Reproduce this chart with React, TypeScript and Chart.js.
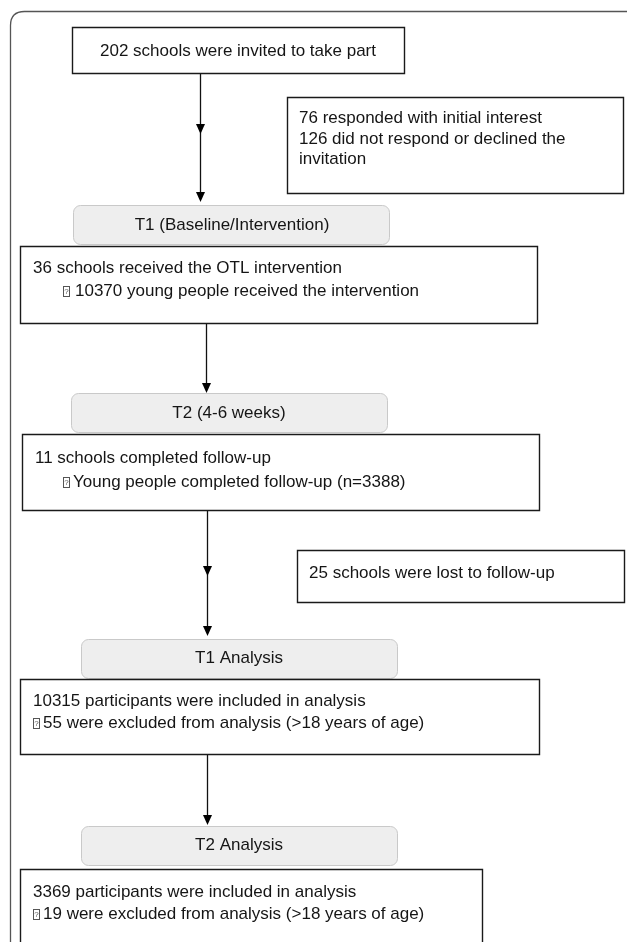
import React, { useEffect, useRef } from "react";
import { Chart, registerables } from "chart.js";

Chart.register(...registerables);

// ---- data (counts and labels) ----
const schoolsInvited = 202;
const respondedInterest = 76;
const declinedOrNoResponse = 126;
const schoolsReceived = 36;
const youngPeopleReceived = 10370;
const schoolsCompletedFollowUp = 11;
const youngPeopleFollowUp = 3388;
const schoolsLost = 25;
const t1Included = 10315;
const t1Excluded = 55;
const t2Included = 3369;
const t2Excluded = 19;
const stageLabels = ["T1 (Baseline/Intervention)", "T2 (4-6 weeks)", "T1 Analysis", "T2 Analysis"];
const bulletGlyph = "?";

// ---- layout (diagram coordinates in the chart's own units) ----
type Line = { t: string; x: number; y: number; bullet?: number };
type Box = {
  x0: number; y0: number; x1: number; y1: number;
  kind: "plain" | "stage";
  align: "left" | "center";
  lines: Line[];
};

const boxes: Box[] = [
  { x0: 72, y0: 27, x1: 404, y1: 73, kind: "plain", align: "center",
    lines: [{ t: `${schoolsInvited} schools were invited to take part`, x: 238, y: 51 }] },
  { x0: 287, y0: 97, x1: 623, y1: 193, kind: "plain", align: "left",
    lines: [
      { t: `${respondedInterest} responded with initial interest`, x: 299, y: 118 },
      { t: `${declinedOrNoResponse} did not respond or declined the`, x: 299, y: 139 },
      { t: "invitation", x: 299, y: 159 },
    ] },
  { x0: 73, y0: 205, x1: 389, y1: 244, kind: "stage", align: "center",
    lines: [{ t: stageLabels[0], x: 232, y: 225 }] },
  { x0: 20, y0: 246, x1: 537, y1: 323, kind: "plain", align: "left",
    lines: [
      { t: `${schoolsReceived} schools received the OTL intervention`, x: 33, y: 268 },
      { t: `${youngPeopleReceived} young people received the intervention`, x: 75, y: 291, bullet: 63 },
    ] },
  { x0: 71, y0: 393, x1: 387, y1: 432, kind: "stage", align: "center",
    lines: [{ t: stageLabels[1], x: 229, y: 413 }] },
  { x0: 22, y0: 434, x1: 539, y1: 510, kind: "plain", align: "left",
    lines: [
      { t: `${schoolsCompletedFollowUp} schools completed follow-up`, x: 35, y: 458 },
      { t: `Young people completed follow-up (n=${youngPeopleFollowUp})`, x: 73, y: 482, bullet: 63 },
    ] },
  { x0: 297, y0: 550, x1: 624, y1: 602, kind: "plain", align: "left",
    lines: [{ t: `${schoolsLost} schools were lost to follow-up`, x: 309, y: 573 }] },
  { x0: 81, y0: 639, x1: 397, y1: 678, kind: "stage", align: "center",
    lines: [{ t: stageLabels[2], x: 239, y: 658 }] },
  { x0: 20, y0: 679, x1: 539, y1: 754, kind: "plain", align: "left",
    lines: [
      { t: `${t1Included} participants were included in analysis`, x: 33, y: 701 },
      { t: `${t1Excluded} were excluded from analysis (>18 years of age)`, x: 43, y: 723, bullet: 33 },
    ] },
  { x0: 81, y0: 826, x1: 397, y1: 865, kind: "stage", align: "center",
    lines: [{ t: stageLabels[3], x: 239, y: 845 }] },
  { x0: 20, y0: 869, x1: 482, y1: 965, kind: "plain", align: "left",
    lines: [
      { t: `${t2Included} participants were included in analysis`, x: 33, y: 892 },
      { t: `${t2Excluded} were excluded from analysis (>18 years of age)`, x: 43, y: 914, bullet: 33 },
    ] },
];

type Arrow = { x: number; y0: number; y1: number; mid?: number };
const arrows: Arrow[] = [
  { x: 200, y0: 73, y1: 202, mid: 134 },
  { x: 206, y0: 323, y1: 393 },
  { x: 207, y0: 510, y1: 636, mid: 576 },
  { x: 207, y0: 754, y1: 825 },
];

const frame = { x0: 10, y0: 11, x1: 660, y1: 980, r: 14 };

const flowPlugin = {
  id: "flow",
  afterDraw(chart: any) {
    const ctx: CanvasRenderingContext2D = chart.ctx;
    const xs = chart.scales.x;
    const ys = chart.scales.y;
    const X = (v: number) => xs.getPixelForValue(v);
    const Y = (v: number) => ys.getPixelForValue(v);
    ctx.save();

    // outer frame
    ctx.beginPath();
    ctx.strokeStyle = "#555";
    ctx.lineWidth = 1.3;
    const fx0 = X(frame.x0) + 0.5, fy0 = Y(frame.y0) + 0.5, fx1 = X(frame.x1), fy1 = Y(frame.y1);
    ctx.moveTo(fx0, fy1);
    ctx.lineTo(fx0, fy0 + frame.r);
    ctx.quadraticCurveTo(fx0, fy0, fx0 + frame.r, fy0);
    ctx.lineTo(fx1, fy0);
    ctx.stroke();

    // arrows
    const head = (x: number, tipY: number) => {
      ctx.beginPath();
      ctx.moveTo(x, tipY);
      ctx.lineTo(x - 4.5, tipY - 10);
      ctx.lineTo(x + 4.5, tipY - 10);
      ctx.closePath();
      ctx.fillStyle = "#000";
      ctx.fill();
    };
    arrows.forEach((a) => {
      const x = Math.round(X(a.x)) + 0.5;
      ctx.beginPath();
      ctx.strokeStyle = "#111";
      ctx.lineWidth = 1.3;
      ctx.moveTo(x, Y(a.y0));
      ctx.lineTo(x, Y(a.y1) - 4);
      ctx.stroke();
      head(x, Y(a.y1));
      if (a.mid !== undefined) head(x, Y(a.mid));
    });

    // boxes
    boxes.forEach((b) => {
      const x0 = Math.round(X(b.x0)) + 0.5, y0 = Math.round(Y(b.y0)) + 0.5;
      const w = X(b.x1) - X(b.x0), h = Y(b.y1) - Y(b.y0);
      if (b.kind === "stage") {
        ctx.beginPath();
        ctx.roundRect(x0, y0, w, h, 7);
        ctx.fillStyle = "#eeeeee";
        ctx.fill();
        ctx.strokeStyle = "#c9c9c9";
        ctx.lineWidth = 1;
        ctx.stroke();
      } else {
        ctx.beginPath();
        ctx.rect(x0, y0, w, h);
        ctx.fillStyle = "#ffffff";
        ctx.fill();
        ctx.strokeStyle = "#1a1a1a";
        ctx.lineWidth = 1.4;
        ctx.stroke();
      }
      ctx.textBaseline = "middle";
      b.lines.forEach((ln) => {
        if (ln.bullet !== undefined) {
          // missing-glyph box as in the source figure
          const bx = Math.round(X(ln.bullet)) + 0.5;
          const by = Math.round(Y(ln.y)) - 5 + 0.5;
          ctx.strokeStyle = "#555";
          ctx.lineWidth = 1;
          ctx.strokeRect(bx, by, 6, 10);
          ctx.fillStyle = "#555";
          ctx.font = '8px "Liberation Sans", Arial, sans-serif';
          ctx.textAlign = "center";
          ctx.fillText(bulletGlyph, bx + 3, Y(ln.y) + 0.5);
        }
        ctx.fillStyle = "#151515";
        ctx.font = '17px "Liberation Sans", Arial, sans-serif';
        ctx.textAlign = b.align;
        ctx.fillText(ln.t, X(ln.x), Y(ln.y));
      });
    });
    ctx.restore();
  },
};

export default function App() {
  const ref = useRef<HTMLCanvasElement | null>(null);
  useEffect(() => {
    if (!ref.current) return;
    const chart = new Chart(ref.current, {
      type: "scatter",
      data: { datasets: [{ data: [], pointRadius: 0 }] },
      options: {
        animation: false,
        responsive: false,
        maintainAspectRatio: false,
        layout: { padding: 0 },
        plugins: { legend: { display: false }, tooltip: { enabled: false } },
        scales: {
          x: { type: "linear", min: 0, max: 627, display: false },
          y: { type: "linear", min: 0, max: 942, reverse: true, display: false },
        },
      },
      plugins: [flowPlugin],
    });
    return () => chart.destroy();
  }, []);
  return (
    <div style={{ position: "absolute", left: 0, top: 0, width: 627, height: 942, background: "#fff" }}>
      <canvas ref={ref} width={627} height={942} style={{ display: "block" }} />
    </div>
  );
}
